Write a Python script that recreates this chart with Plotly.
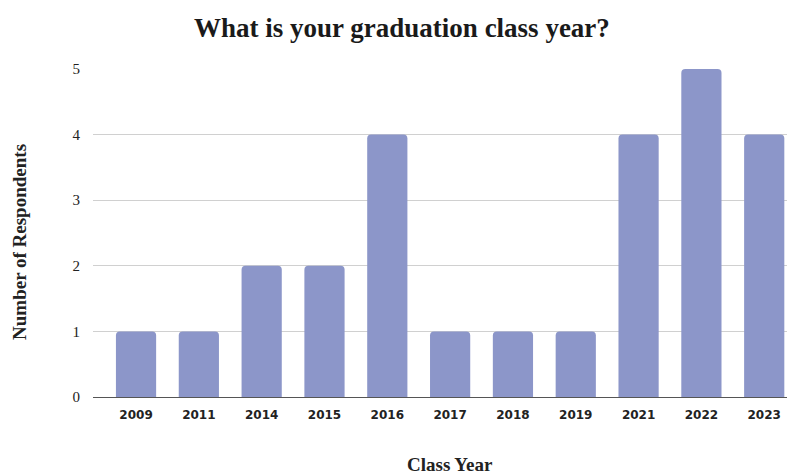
import plotly.graph_objects as go

years = ["2009", "2011", "2014", "2015", "2016", "2017", "2018", "2019", "2021", "2022", "2023"]
respondents = [1, 1, 2, 2, 4, 1, 1, 1, 4, 5, 4]
y_ticks = [0, 1, 2, 3, 4, 5]

fig = go.Figure(go.Bar(
    x=years, y=respondents,
    marker=dict(color="#8c96c9", line=dict(width=0)),
))

fig.update_layout(
    width=787, height=467,
    margin=dict(l=85, r=0, t=61, b=78),
    paper_bgcolor="white", plot_bgcolor="white",
    bargap=0.36,
    barcornerradius=4,
    showlegend=False,
    title=dict(text="<b>What is your graduation class year?</b>", x=0.5006, xanchor="center",
               y=0.959, yanchor="middle",
               font=dict(family="Liberation Serif", size=27, color="#1a1a1a")),
    font=dict(family="Liberation Serif", color="#222"),
    annotations=[
        dict(text="<b>Number of Respondents</b>", xref="paper", yref="paper",
             x=-0.1040, y=0.4726, xanchor="center", yanchor="middle", textangle=-90,
             showarrow=False, font=dict(family="Liberation Serif", size=19, color="#222")),
        dict(text="<b>Class Year</b>", xref="paper", yref="paper",
             x=0.5085, y=-0.2043, xanchor="center", yanchor="middle",
             showarrow=False, font=dict(family="Liberation Serif", size=19, color="#222")),
    ],
)
fig.update_xaxes(
    type="category", range=[-0.685, 10.49],
    tickfont=dict(family="DejaVu Sans", size=12, color="#222", weight="bold"),
    showgrid=False, showline=False, ticks="", ticklabelstandoff=9,
)
fig.update_yaxes(
    range=[0, 5], tickvals=y_ticks,
    showgrid=True, gridcolor="#d0d0d0", gridwidth=1,
    zeroline=True, zerolinecolor="#555", zerolinewidth=1.2,
    tickfont=dict(family="Liberation Serif", size=15, color="#222"),
    ticks="", ticklabelstandoff=12,
)
fig.write_html("out.html")
